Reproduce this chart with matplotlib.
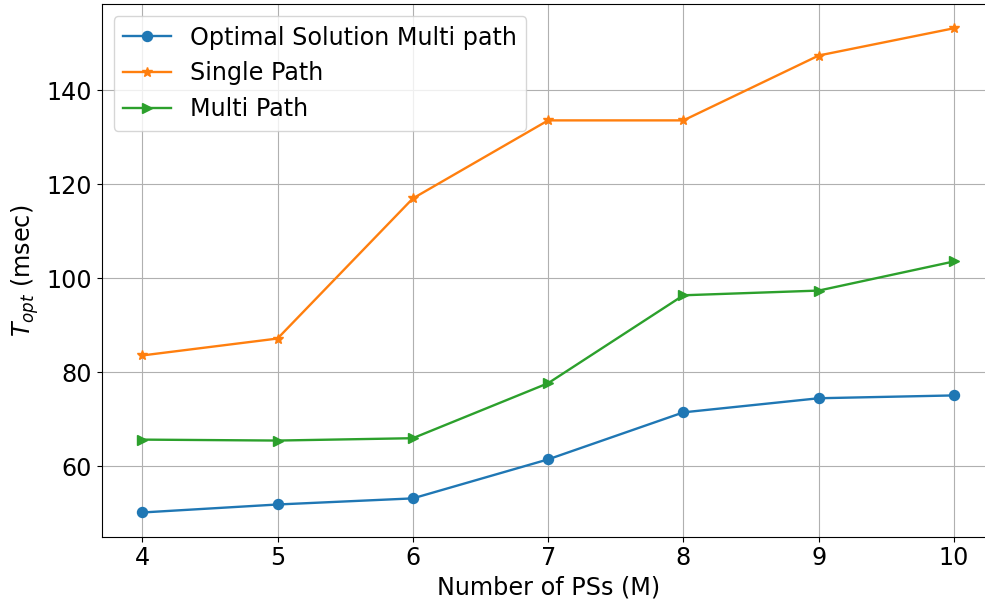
import numpy as np
import matplotlib
matplotlib.use("Agg")
import matplotlib.pyplot as plt

# number of PSs on the x axis
num_ps = [4, 5, 6, 7, 8, 9, 10]

# T_opt values (msec) per scheme
optimal_multi = [50.2, 51.9, 53.2, 61.5, 71.5, 74.5, 75.1]
single_path = [83.6, 87.2, 117.0, 133.6, 133.6, 147.4, 153.2]
multi_path = [65.7, 65.5, 66.0, 77.7, 96.4, 97.4, 103.6]

plt.rcParams["font.size"] = 17.2
plt.rcParams["lines.linewidth"] = 1.7
plt.rcParams["lines.markersize"] = 7.2

fig = plt.figure(figsize=(9.85, 6), dpi=100)
# axes runs slightly past the right edge of the canvas
ax = fig.add_axes([0.1032, 0.1055, 1.0098 - 0.1032, 0.9933 - 0.1055])
ax.plot(num_ps, optimal_multi, marker="o", label="Optimal Solution Multi path")
ax.plot(num_ps, single_path, marker="*", label="Single Path")
ax.plot(num_ps, multi_path, marker=">", label="Multi Path")

ax.set_xlabel("Number of PSs (M)")
ax.set_ylabel(r"$T_{opt}$ (msec)")
ax.set_xticks(num_ps)
ax.set_yticks([60, 80, 100, 120, 140])
ax.grid(True)
ax.legend(loc="upper left")

fig.savefig("out.png")
